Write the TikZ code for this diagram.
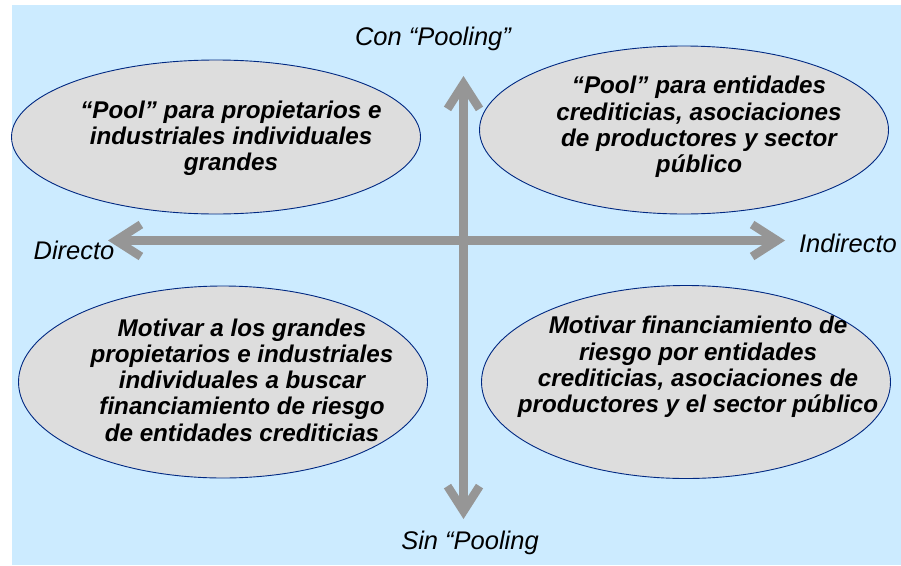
\documentclass[tikz,border=0pt]{standalone}
\usepackage{fontspec}
\setmainfont{Liberation Sans}
\usetikzlibrary{arrows.meta,shapes.geometric}
\definecolor{paneblue}{RGB}{204,235,255}
\definecolor{blobfill}{RGB}{221,221,221}
\definecolor{blobline}{RGB}{0,40,130}
\definecolor{axisgray}{RGB}{150,150,150}
\begin{document}
\begin{tikzpicture}[x=1pt, y=-1pt,
        blob/.style={ellipse, draw=blobline, fill=blobfill, line width=0.9pt, inner sep=0pt},
        blobtext/.style={align=center, inner sep=0pt, font=\fontsize{24.2}{26.2}\selectfont\bfseries\itshape},
        axislabel/.style={inner sep=0pt, font=\fontsize{25.5}{28}\selectfont\itshape},
        axis/.style={draw=axisgray, line width=8.5pt, {Straight Barb[length=25pt, width=32pt]}-{Straight Barb[length=25pt, width=32pt]}}]
    \useasboundingbox (0,0) rectangle (901,565);
    \fill[paneblue] (12,5) rectangle (901,565);
    % four quadrants
    \node[blob, minimum width=409pt, minimum height=154pt] (tl) at (216,137) {};
    \node[blob, minimum width=409pt, minimum height=168pt] (tr) at (684,130) {};
    \node[blob, minimum width=409pt, minimum height=192pt] (bl) at (223,382) {};
    \node[blob, minimum width=409pt, minimum height=193pt] (br) at (686,382) {};
    \node[blobtext] (tltext) at (231,138) {“Pool” para propietarios e\\industriales individuales\\grandes};
    \node[blobtext] (trtext) at (699,127) {“Pool” para entidades\\crediticias, asociaciones\\de productores y sector\\público};
    \node[blobtext] (bltext) at (242,380) {Motivar a los grandes\\propietarios e industriales\\individuales a buscar\\financiamiento de riesgo\\de entidades crediticias};
    \node[blobtext] (brtext) at (698,367) {Motivar financiamiento de\\riesgo por entidades\\crediticias, asociaciones de\\productores y el sector público};
    % axes
    \coordinate (up) at (463.5,76);
    \coordinate (down) at (463.5,519);
    \coordinate (left) at (108,240.5);
    \coordinate (right) at (785,240.5);
    \draw[axis] (down) -- (up);
    \draw[axis] (left) -- (right);
    \node[axislabel] (con) at (433,39) {Con “Pooling”};
    \node[axislabel] (sin) at (470,543) {Sin “Pooling};
    \node[axislabel] (dir) at (74,250) {Directo};
    \node[axislabel] (ind) at (848,243) {Indirecto};
\end{tikzpicture}
\end{document}
